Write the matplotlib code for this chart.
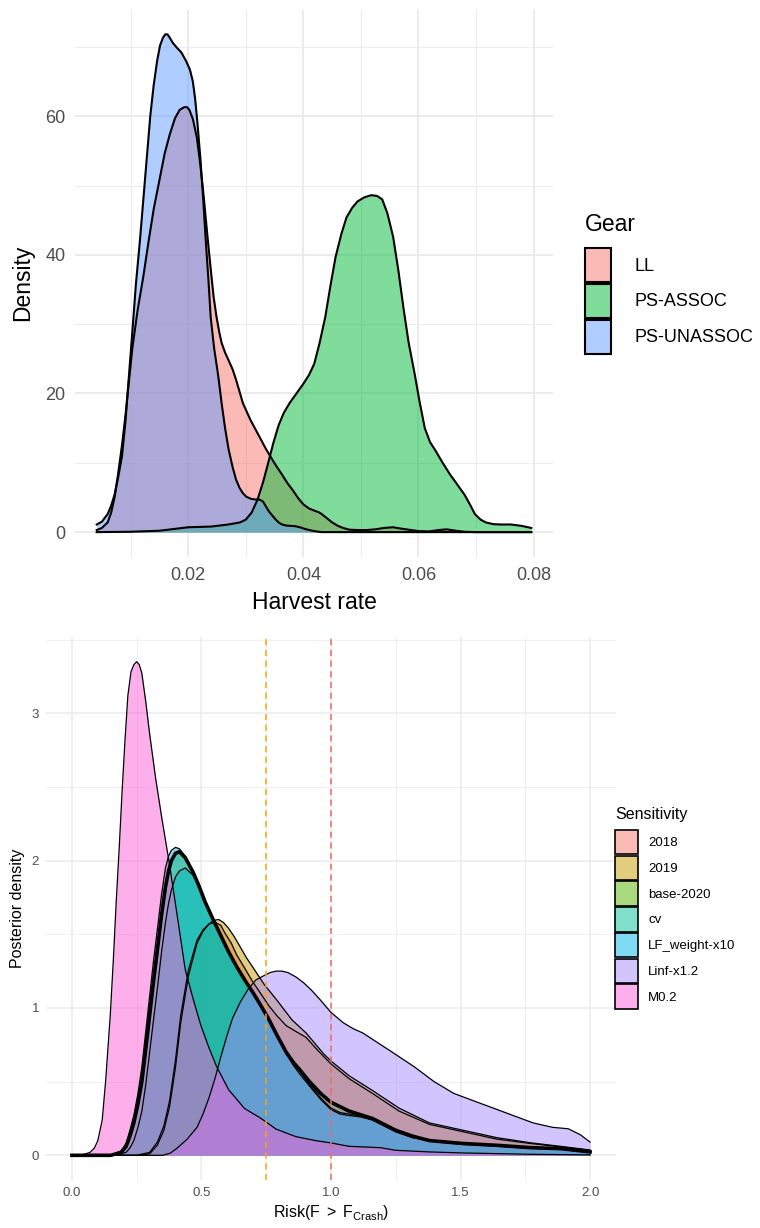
import matplotlib
matplotlib.use("Agg")
import matplotlib.pyplot as plt
from matplotlib.patches import Patch
from matplotlib.ticker import MultipleLocator, FormatStrFormatter
from matplotlib.colors import to_rgba

plt.rcParams['font.family'] = ['Liberation Sans', 'DejaVu Sans']
plt.rcParams['mathtext.fontset'] = 'custom'
plt.rcParams['mathtext.rm'] = 'Liberation Sans'
plt.rcParams['mathtext.it'] = 'Liberation Sans'

# ---- top panel: harvest rate by gear ----
gears = ["LL", "PS-ASSOC", "PS-UNASSOC"]
gear_colors = ["#F8766D", "#00BA38", "#619CFF"]

ll_x = [0.0041, 0.0050, 0.0060, 0.0066, 0.0072, 0.0078, 0.0085, 0.0091, 0.0097, 0.0103,
        0.0112, 0.0122, 0.0131, 0.0140, 0.0150, 0.0159, 0.0168, 0.0177, 0.0185, 0.0193,
        0.0198, 0.0202, 0.0208, 0.0215, 0.0221, 0.0227, 0.0233, 0.0239, 0.0244, 0.0249,
        0.0254, 0.0258, 0.0264, 0.0270, 0.0277, 0.0283, 0.0289, 0.0295, 0.0302, 0.0308,
        0.0317, 0.0326, 0.0335, 0.0345, 0.0354, 0.0363, 0.0372, 0.0382, 0.0391, 0.0400,
        0.0410, 0.0419, 0.0426, 0.0432, 0.0441, 0.0450, 0.0460, 0.0469, 0.0480, 0.0494,
        0.0510, 0.0525, 0.0540, 0.0556, 0.0570, 0.0587, 0.0600, 0.0618, 0.0635, 0.0649,
        0.0665, 0.0680, 0.0700, 0.0796]
ll_y = [0.3, 0.6, 1.4, 2.8, 5.0, 8.3, 12.6, 16.9, 21.8, 26.6,
        32.0, 36.9, 41.9, 46.6, 50.8, 54.6, 57.4, 59.7, 60.9, 61.3,
        61.3, 60.9, 59.6, 56.9, 53.0, 48.3, 43.0, 38.0, 34.0, 31.1,
        28.8, 27.3, 25.9, 24.8, 23.5, 22.0, 20.3, 18.6, 17.3, 16.2,
        14.8, 13.4, 12.0, 10.6, 9.4, 8.3, 7.1, 6.0, 4.9, 4.0,
        3.4, 3.1, 2.9, 2.6, 2.0, 1.4, 0.9, 0.6, 0.35, 0.3,
        0.3, 0.4, 0.6, 0.7, 0.5, 0.3, 0.15, 0.1, 0.3, 0.4,
        0.2, 0.05, 0.0, 0.0]

assoc_x = [0.0041, 0.0100, 0.0150, 0.0180, 0.0200, 0.0240, 0.0270, 0.0290, 0.0300, 0.0310,
           0.0320, 0.0330, 0.0339, 0.0348, 0.0357, 0.0366, 0.0376, 0.0388, 0.0400, 0.0410,
           0.0419, 0.0428, 0.0438, 0.0447, 0.0456, 0.0466, 0.0475, 0.0485, 0.0494, 0.0506,
           0.0518, 0.0528, 0.0537, 0.0546, 0.0556, 0.0565, 0.0574, 0.0583, 0.0593, 0.0602,
           0.0611, 0.0620, 0.0630, 0.0642, 0.0655, 0.0668, 0.0680, 0.0690, 0.0698, 0.0708,
           0.0717, 0.0730, 0.0742, 0.0760, 0.0770, 0.0779, 0.0796]
assoc_y = [0.0, 0.05, 0.2, 0.5, 0.7, 0.8, 1.1, 1.4, 1.8, 2.8,
           4.6, 7.2, 10.0, 12.9, 15.4, 17.2, 18.6, 20.0, 21.4, 22.7,
           24.3, 27.2, 31.0, 35.5, 39.7, 43.0, 45.4, 46.8, 47.7, 48.3,
           48.6, 48.5, 48.0, 46.0, 42.6, 37.8, 32.3, 27.3, 23.0, 18.8,
           15.0, 13.0, 11.7, 10.0, 8.3, 6.8, 5.4, 3.9, 2.6, 1.8,
           1.4, 1.15, 1.1, 1.1, 1.0, 0.9, 0.6]

unassoc_x = [0.0041, 0.0050, 0.0060, 0.0066, 0.0072, 0.0078, 0.0085, 0.0091, 0.0097, 0.0103,
             0.0109, 0.0116, 0.0122, 0.0128, 0.0134, 0.0140, 0.0146, 0.0151, 0.0156, 0.0160,
             0.0164, 0.0168, 0.0173, 0.0180, 0.0188, 0.0196, 0.0203, 0.0208, 0.0212, 0.0216,
             0.0221, 0.0226, 0.0230, 0.0235, 0.0239, 0.0245, 0.0252, 0.0258, 0.0264, 0.0270,
             0.0277, 0.0283, 0.0289, 0.0295, 0.0301, 0.0309, 0.0317, 0.0324, 0.0330, 0.0335,
             0.0340, 0.0346, 0.0351, 0.0357, 0.0363, 0.0370, 0.0378, 0.0386, 0.0394, 0.0403,
             0.0413, 0.0422, 0.0432, 0.0796]
unassoc_y = [1.1, 1.5, 2.6, 3.8, 5.4, 7.8, 11.0, 16.0, 22.6, 29.0,
             35.7, 42.0, 48.0, 54.0, 60.0, 64.5, 68.0, 70.2, 71.3, 71.8,
             71.8, 71.3, 70.6, 69.9, 69.2, 68.0, 66.7, 65.0, 62.5, 59.0,
             54.0, 48.0, 42.6, 36.5, 31.0, 26.5, 22.6, 18.6, 15.0, 12.0,
             9.4, 7.6, 6.4, 5.6, 5.1, 4.8, 4.7, 4.7, 4.4, 3.7,
             3.0, 2.4, 1.9, 1.4, 1.1, 0.95, 0.9, 0.85, 0.7, 0.45,
             0.25, 0.1, 0.0, 0.0]

# ---- bottom panel: risk by sensitivity run ----
runs = ["2018", "2019", "base-2020", "cv", "LF_weight-x10", "Linf-x1.2", "M0.2"]
run_colors = ["#F8766D", "#C49A00", "#53B400", "#00C094", "#00B6EB", "#A58AFF", "#FB61D7"]

risk_x = [0.0, 0.15, 0.19, 0.209, 0.224, 0.239, 0.255, 0.27, 0.285, 0.30,
          0.315, 0.331, 0.346, 0.361, 0.373, 0.384, 0.40, 0.415, 0.4375, 0.468,
          0.49, 0.514, 0.545, 0.575, 0.605, 0.636, 0.667, 0.697, 0.728, 0.758,
          0.79, 0.827, 0.855, 0.88, 0.917, 0.96, 1.0, 1.035, 1.07, 1.115,
          1.16, 1.205, 1.25, 1.315, 1.38, 1.445, 1.51, 1.64, 1.77, 1.89, 2.0]
base_y = [0.0, 0.0, 0.02, 0.06, 0.13, 0.22, 0.35, 0.50, 0.72, 0.95,
          1.18, 1.41, 1.63, 1.82, 1.93, 2.0, 2.05, 2.06, 2.02, 1.92,
          1.83, 1.72, 1.60, 1.49, 1.38, 1.28, 1.19, 1.11, 1.02, 0.93,
          0.82, 0.70, 0.63, 0.58, 0.50, 0.42, 0.36, 0.33, 0.30, 0.275,
          0.25, 0.21, 0.17, 0.13, 0.10, 0.09, 0.08, 0.068, 0.052, 0.045, 0.023]
cv_y = [0.0, 0.0, 0.01, 0.02, 0.05, 0.10, 0.19, 0.30, 0.48, 0.70,
        0.92, 1.15, 1.38, 1.58, 1.71, 1.80, 1.89, 1.93, 1.95, 1.90,
        1.82, 1.72, 1.60, 1.49, 1.38, 1.28, 1.19, 1.10, 1.01, 0.92,
        0.81, 0.69, 0.61, 0.55, 0.47, 0.38, 0.31, 0.28, 0.27, 0.26,
        0.24, 0.20, 0.16, 0.12, 0.10, 0.085, 0.075, 0.062, 0.048, 0.04, 0.02]
lf_y = [0.0, 0.0, 0.03, 0.08, 0.17, 0.27, 0.42, 0.60, 0.84, 1.08,
        1.32, 1.55, 1.77, 1.95, 2.03, 2.07, 2.09, 2.08, 2.03, 1.93,
        1.84, 1.73, 1.61, 1.50, 1.39, 1.29, 1.20, 1.11, 1.02, 0.93,
        0.82, 0.70, 0.62, 0.57, 0.48, 0.39, 0.32, 0.29, 0.28, 0.265,
        0.24, 0.20, 0.16, 0.12, 0.10, 0.088, 0.078, 0.066, 0.05, 0.042, 0.022]

y2018_x = [0.0, 0.25, 0.30, 0.33, 0.355, 0.377, 0.40, 0.42, 0.45, 0.483,
           0.506, 0.529, 0.555, 0.575, 0.59, 0.615, 0.636, 0.667, 0.697, 0.728,
           0.758, 0.79, 0.827, 0.865, 0.904, 0.95, 1.0, 1.07, 1.16, 1.263,
           1.38, 1.51, 1.64, 1.77, 1.89, 2.0]
y2018_y = [0.0, 0.0, 0.02, 0.09, 0.20, 0.37, 0.65, 0.95, 1.26, 1.46,
           1.53, 1.57, 1.58, 1.56, 1.51, 1.44, 1.36, 1.27, 1.18, 1.10,
           1.02, 0.95, 0.88, 0.84, 0.80, 0.71, 0.62, 0.52, 0.42, 0.30,
           0.21, 0.16, 0.11, 0.08, 0.057, 0.034]
y2019_x = [0.0, 0.25, 0.30, 0.33, 0.355, 0.377, 0.40, 0.42, 0.45, 0.483,
           0.506, 0.529, 0.548, 0.567, 0.585, 0.605, 0.628, 0.651, 0.674, 0.697,
           0.742, 0.788, 0.849, 0.904, 0.971, 1.0, 1.07, 1.16, 1.263, 1.38,
           1.51, 1.64, 1.77, 1.89, 2.0]
y2019_y = [0.0, 0.0, 0.01, 0.07, 0.17, 0.33, 0.60, 0.90, 1.22, 1.44,
           1.52, 1.57, 1.595, 1.60, 1.58, 1.54, 1.48, 1.41, 1.34, 1.28,
           1.16, 1.06, 0.92, 0.83, 0.69, 0.64, 0.54, 0.44, 0.32, 0.22,
           0.17, 0.12, 0.085, 0.06, 0.036]

linf_x = [0.0, 0.35, 0.38, 0.407, 0.445, 0.483, 0.506, 0.529, 0.552, 0.575,
          0.598, 0.62, 0.65, 0.681, 0.71, 0.742, 0.765, 0.788, 0.81, 0.834,
          0.865, 0.895, 0.925, 0.956, 1.0, 1.047, 1.085, 1.123, 1.184, 1.245,
          1.322, 1.398, 1.474, 1.55, 1.627, 1.703, 1.78, 1.855, 1.916, 1.962, 2.0]
linf_y = [0.0, 0.0, 0.015, 0.05, 0.11, 0.19, 0.28, 0.39, 0.52, 0.67,
          0.81, 0.93, 1.04, 1.13, 1.19, 1.22, 1.24, 1.25, 1.25, 1.24,
          1.21, 1.17, 1.12, 1.06, 0.97, 0.90, 0.86, 0.83, 0.76, 0.69,
          0.60, 0.50, 0.42, 0.37, 0.32, 0.27, 0.22, 0.19, 0.18, 0.14, 0.09]

m02_x = [0.0, 0.03, 0.049, 0.07, 0.087, 0.10, 0.117, 0.13, 0.148, 0.16,
         0.171, 0.183, 0.194, 0.205, 0.216, 0.228, 0.239, 0.25, 0.26, 0.27,
         0.285, 0.30, 0.323, 0.346, 0.377, 0.407, 0.4375, 0.468, 0.498, 0.529,
         0.559, 0.605, 0.666, 0.727, 0.788, 0.864, 0.94, 1.0, 1.07, 1.19,
         1.25, 1.38, 1.51, 1.77, 2.0]
m02_y = [0.0, 0.0, 0.008, 0.02, 0.05, 0.10, 0.24, 0.50, 0.95, 1.33,
         1.72, 2.10, 2.48, 2.82, 3.12, 3.28, 3.33, 3.35, 3.33, 3.27,
         3.08, 2.86, 2.56, 2.30, 1.97, 1.62, 1.26, 1.06, 0.88, 0.73,
         0.60, 0.445, 0.318, 0.254, 0.178, 0.127, 0.10, 0.084, 0.061, 0.052,
         0.034, 0.023, 0.016, 0.007, 0.003]

run_x = [y2018_x, y2019_x, risk_x, risk_x, risk_x, linf_x, m02_x]
run_y = [y2018_y, y2019_y, base_y, cv_y, lf_y, linf_y, m02_y]

fig = plt.figure(figsize=(7.6, 12.28), dpi=100)
W, H = 760, 1228


def px_axes(left, top, right, bottom):
    return fig.add_axes([left / W, 1 - bottom / H, (right - left) / W, (bottom - top) / H])


def minimal(ax, lw, tick_size, xmaj, xmin_, ymaj, ymin_, pad):
    for s in ax.spines.values():
        s.set_visible(False)
    ax.xaxis.set_major_locator(MultipleLocator(xmaj))
    ax.xaxis.set_minor_locator(MultipleLocator(xmin_))
    ax.yaxis.set_major_locator(MultipleLocator(ymaj))
    ax.yaxis.set_minor_locator(MultipleLocator(ymin_))
    ax.grid(which='major', color='#EBEBEB', lw=lw)
    ax.grid(which='minor', color='#EBEBEB', lw=lw / 2)
    ax.set_axisbelow(True)
    ax.tick_params(which='both', length=0, labelsize=tick_size, labelcolor='#4D4D4D', pad=pad)


# top panel
ax1 = px_axes(75, 9.5, 553, 557)
for xs, ys, c in zip([ll_x, assoc_x, unassoc_x], [ll_y, assoc_y, unassoc_y], gear_colors):
    ax1.fill_between(xs, ys, 0, color=c, alpha=0.5, lw=0)
    ax1.plot(xs, ys, color='black', lw=1.5, solid_joinstyle='round')
lo, hi = 0.0041, 0.0796
ax1.set_xlim(lo - 0.05 * (hi - lo), hi + 0.05 * (hi - lo))
ax1.set_ylim(-0.05 * 71.8, 71.8 * 1.05)
minimal(ax1, 1.5, 13, 0.02, 0.01, 20, 10, 7)
ax1.xaxis.set_major_formatter(FormatStrFormatter('%.2f'))
ax1.set_xlabel("Harvest rate", fontsize=16.5, labelpad=5)
ax1.set_ylabel("Density", fontsize=16.5, labelpad=8)

h1 = [Patch(facecolor=to_rgba(c, 0.5), edgecolor='black', lw=1.5) for c in gear_colors]
leg1 = fig.legend(h1, gears, loc='upper left', bbox_to_anchor=(578 / W, 1 - 206 / H),
                  frameon=False, fontsize=13, title="Gear", title_fontsize=16.5,
                  handlelength=1.45, handleheight=2.52, labelspacing=0.1, handletextpad=1.3,
                  borderaxespad=0)
leg1._legend_box.align = "left"
leg1._legend_box.sep = 8.5

# bottom panel
ax2 = px_axes(46, 637, 616, 1180)
for name, xs, ys, c in zip(runs, run_x, run_y, run_colors):
    ax2.fill_between(xs, ys, 0, color=c, alpha=0.5, lw=0)
    if name != "base-2020":
        ax2.plot(xs, ys, color='black', lw=0.9)
ax2.plot(risk_x, base_y, color='black', lw=2.6, solid_joinstyle='round')
ax2.axvline(0.75, color='orange', ls=(0, (4, 3)), lw=1.1)
ax2.axvline(1.0, color='#EE6A5C', ls=(0, (4, 3)), lw=1.1)
ax2.set_xlim(-0.1, 2.1)
ax2.set_ylim(-0.05 * 3.35, 3.35 * 1.05)
minimal(ax2, 1.1, 9.5, 0.5, 0.25, 1, 0.5, 5)
ax2.xaxis.set_major_formatter(FormatStrFormatter('%.1f'))
ax2.set_xlabel(r'Risk$\left(\mathrm{F}\ >\ \mathrm{F}_{\mathrm{Crash}}\right)$', fontsize=11.5, labelpad=3)
ax2.set_ylabel("Posterior density", fontsize=11.5, labelpad=5)

h2 = [Patch(facecolor=to_rgba(c, 0.5), edgecolor='black', lw=1.2) for c in run_colors]
leg2 = fig.legend(h2, runs, loc='upper left', bbox_to_anchor=(610 / W, 1 - 802 / H),
                  frameon=False, fontsize=9.5, title="Sensitivity", title_fontsize=11.5,
                  handlelength=1.75, handleheight=2.47, labelspacing=0.1, handletextpad=0.75,
                  borderaxespad=0)
leg2._legend_box.align = "left"
leg2._legend_box.sep = 5.5

fig.savefig("out.png", dpi=100)
